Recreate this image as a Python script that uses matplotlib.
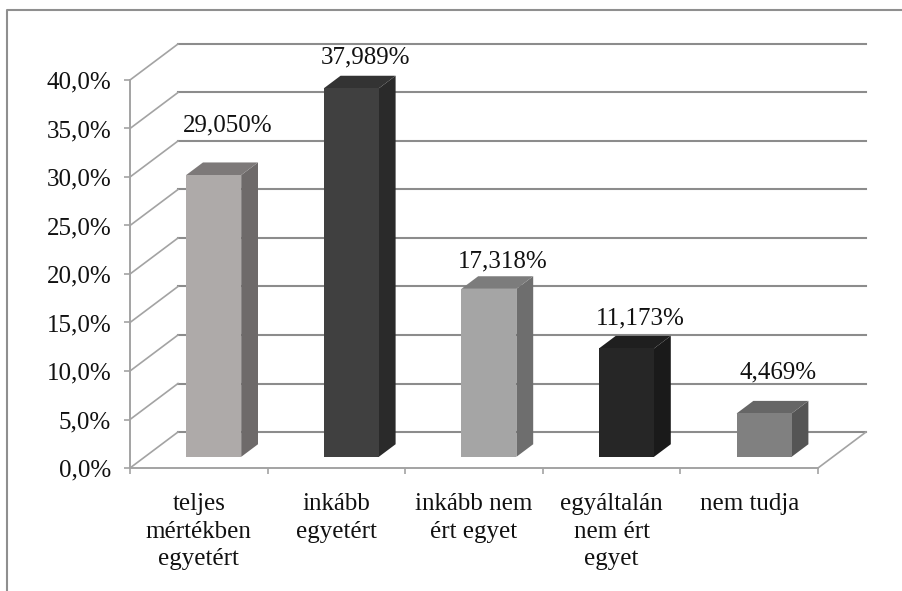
import numpy as np
import matplotlib
matplotlib.use("Agg")
import matplotlib.pyplot as plt
from matplotlib.patches import Polygon
from matplotlib.lines import Line2D

plt.rcParams['font.family'] = ['Liberation Serif', 'DejaVu Serif']

# survey answers (percent)
categories = ["teljes\nmértékben\negyetért", "inkább\negyetért", "inkább nem\nért egyet",
              "egyáltalán\nnem ért\negyet", "nem tudja"]
values = [29.050, 37.989, 17.318, 11.173, 4.469]
y_ticks = [0, 5, 10, 15, 20, 25, 30, 35, 40]

# face colours of each column: front, side, top
front_cols = ['#aeaaa9', '#404040', '#a5a5a5', '#262626', '#808080']
side_cols = ['#6e6a6a', '#2a2a2a', '#6e6e6e', '#1a1a1a', '#555555']
top_cols = ['#7d7979', '#333333', '#7c7c7c', '#1f1f1f', '#666666']
label_lift = [50, 31, 27, 30, 41]   # px above the column's front top

W, H = 903, 591
fig = plt.figure(figsize=(W / 100, H / 100), dpi=100)
ax = fig.add_axes([130 / W, (H - 468) / H, 688 / W, 388 / H])
ax.set_xlim(0, 5)
ax.set_ylim(0, 40)

px_x = 688 / 5      # pixels per category
px_y = 388 / 40     # pixels per percent
DX = 48 / px_x      # depth of the floor in data units
DY = 36 / px_y
grid_c = '#8c8c8c'
axis_c = '#a3a3a3'
fs = 18

# back wall gridlines and left wall diagonals
for t in y_ticks:
    ax.plot([DX, 5 + DX], [t + DY, t + DY], color=grid_c, lw=1.5, clip_on=False, zorder=1)
    ax.plot([0, DX], [t, t + DY], color=axis_c, lw=1.2, clip_on=False, zorder=1)
# floor outline
ax.plot([5, 5 + DX], [0, DY], color=axis_c, lw=1.2, clip_on=False, zorder=1)

# 3D columns
f0, f1 = 0.31, 0.66
a, b = f0 * DX, f0 * DY
c, d = f1 * DX, f1 * DY
for i, v in enumerate(values):
    x0, x1 = i + 0.3, i + 0.7
    front = [(x0 + a, b), (x1 + a, b), (x1 + a, v + b), (x0 + a, v + b)]
    side = [(x1 + a, b), (x1 + c, d), (x1 + c, v + d), (x1 + a, v + b)]
    top = [(x0 + a, v + b), (x1 + a, v + b), (x1 + c, v + d), (x0 + c, v + d)]
    for pts, col in ((side, side_cols[i]), (top, top_cols[i]), (front, front_cols[i])):
        ax.add_patch(Polygon(pts, closed=True, facecolor=col, edgecolor='none',
                             clip_on=False, zorder=3))
    lbl = f"{v:.3f}%".replace('.', ',')
    ax.text(i + 0.5 + a + 0.1, v + b + label_lift[i] / px_y, lbl, ha='center', va='center',
            fontsize=fs, color='#111111', zorder=4, clip_on=False)

# category labels under the floor
for i, cat in enumerate(categories):
    ax.text(i + 0.5, -2.6, cat, ha='center', va='top', fontsize=fs, color='#111111',
            linespacing=1.33, clip_on=False)

# axes
for s in ['top', 'right']:
    ax.spines[s].set_visible(False)
for s in ['left', 'bottom']:
    ax.spines[s].set_color(axis_c)
    ax.spines[s].set_linewidth(1.4)
ax.set_yticks(y_ticks)
ax.set_yticklabels([f"{t:.1f}%".replace('.', ',') for t in y_ticks])
ax.set_xticks(range(6))
ax.set_xticklabels([])
ax.tick_params(axis='both', direction='out', length=4.5, width=1.2, color=axis_c,
               labelsize=fs, labelcolor='#111111')
ax.tick_params(axis='y', pad=9)
ax.patch.set_visible(False)

# chart area border
fig.add_artist(Line2D([7 / W, 7 / W, 1.0], [0.0, 1 - 10 / H, 1 - 10 / H],
                      transform=fig.transFigure, color='#8f8f8f', lw=1.5))

fig.savefig('out.png', dpi=100)
